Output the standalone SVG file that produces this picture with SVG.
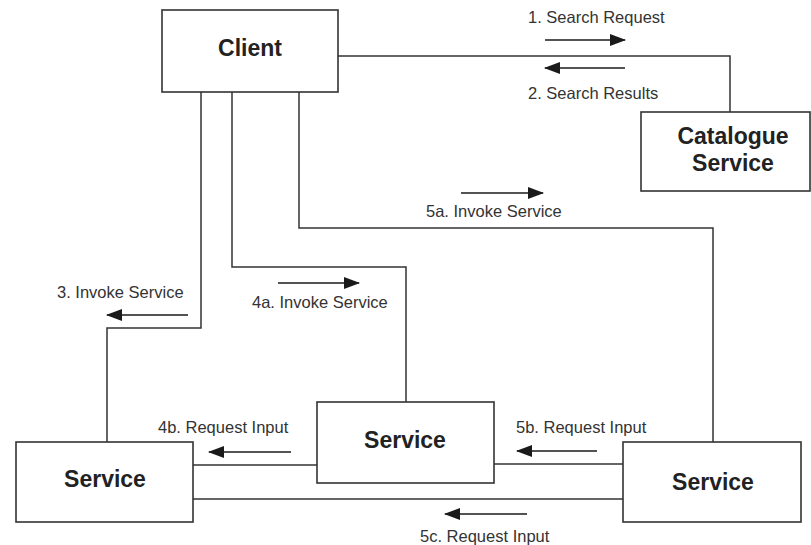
<svg xmlns="http://www.w3.org/2000/svg" width="811" height="545" viewBox="0 0 811 545">
<defs>
<marker id="ah" markerWidth="16" markerHeight="12" refX="15" refY="6" orient="auto" markerUnits="userSpaceOnUse">
<path d="M0,0 L16,6 L0,12 Z" fill="#1a1a1a"/>
</marker>
<style>
.box{fill:#fff;stroke:#333;stroke-width:1.6}
.ln{fill:none;stroke:#333;stroke-width:1.5}
.ar{fill:none;stroke:#1a1a1a;stroke-width:1.6;marker-end:url(#ah)}
.nt{font-family:"Liberation Sans",Arial,sans-serif;font-weight:bold;font-size:23px;fill:#222;text-anchor:middle}
.lb{font-family:"Liberation Sans",Arial,sans-serif;font-size:16.5px;fill:#333}
</style>
</defs>
<rect width="811" height="545" fill="#fff"/>
<g id="connectors">
<polyline class="ln" points="338,56 730,56 730,112"/>
<polyline class="ln" points="299,92 299,228 713,228 713,442"/>
<polyline class="ln" points="232,92 232,267 406,267 406,402"/>
<polyline class="ln" points="201,92 201,328 107,328 107,442"/>
<line class="ln" x1="193" y1="465" x2="317" y2="465"/>
<line class="ln" x1="494" y1="464" x2="623" y2="464"/>
<line class="ln" x1="193" y1="499" x2="623" y2="499"/>
<line class="ar" x1="545" y1="40" x2="625" y2="40"/>
<line class="ar" x1="625" y1="68" x2="545" y2="68"/>
<line class="ar" x1="461" y1="193" x2="543" y2="193"/>
<line class="ar" x1="278" y1="283" x2="359" y2="283"/>
<line class="ar" x1="188" y1="315" x2="107" y2="315"/>
<line class="ar" x1="291" y1="452" x2="209" y2="452"/>
<line class="ar" x1="597" y1="451" x2="517" y2="451"/>
<line class="ar" x1="527" y1="514" x2="445" y2="514"/>
<text class="lb" x="528" y="23">1. Search Request</text>
<text class="lb" x="528" y="99">2. Search Results</text>
<text class="lb" x="426" y="217">5a. Invoke Service</text>
<text class="lb" x="252" y="308">4a. Invoke Service</text>
<text class="lb" x="57" y="298">3. Invoke Service</text>
<text class="lb" x="158" y="433">4b. Request Input</text>
<text class="lb" x="516" y="433">5b. Request Input</text>
<text class="lb" x="420" y="542">5c. Request Input</text>
</g>
<g id="client">
<rect class="box" x="162" y="10" width="176" height="82"/>
<text class="nt" x="250" y="56">Client</text>
</g>
<g id="catalogue">
<rect class="box" x="641" y="112" width="169" height="79"/>
<text class="nt" x="733" y="144">Catalogue</text>
<text class="nt" x="733" y="171">Service</text>
</g>
<g id="service-left">
<rect class="box" x="16" y="442" width="177" height="80"/>
<text class="nt" x="105" y="487">Service</text>
</g>
<g id="service-middle">
<rect class="box" x="317" y="402" width="177" height="81"/>
<text class="nt" x="405" y="448">Service</text>
</g>
<g id="service-right">
<rect class="box" x="623" y="442" width="178" height="80"/>
<text class="nt" x="713" y="490">Service</text>
</g>
</svg>
